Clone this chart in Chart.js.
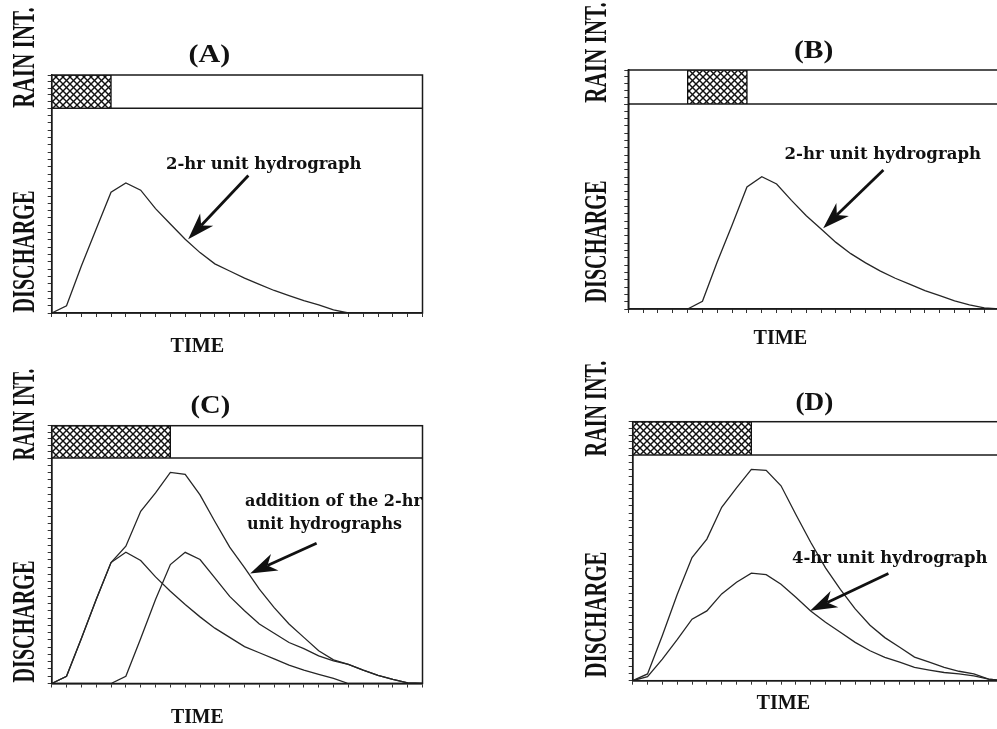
<!DOCTYPE html>
<html>
<head>
<meta charset="utf-8">
<script src="https://cdn.jsdelivr.net/npm/chart.js@4.4.0/dist/chart.umd.min.js"></script>
<style>
html, body { margin: 0; padding: 0; background: #fff; }
#page { position: relative; width: 997px; height: 729px; overflow: hidden; background: #fff; }
#page canvas { position: absolute; }
.lbl { position: absolute; white-space: nowrap; line-height: 1; color: #111; font-weight: bold; }
</style>
</head>
<body>
<div id="page">
  <canvas id="chartA"></canvas>
  <canvas id="chartB"></canvas>
  <canvas id="chartC"></canvas>
  <canvas id="chartD"></canvas>
</div>
<script>
// time in hours, one step = 0.5 hr
const hours = [0, 0.5, 1, 1.5, 2, 2.5, 3, 3.5, 4, 4.5, 5, 5.5, 6, 6.5, 7, 7.5, 8, 8.5, 9, 9.5, 10, 10.5, 11, 11.5, 12, 12.5];

// rain blocks [start, end] in hours
const rainA = [0, 2];
const rainB = [2, 4];
const rainC = [0, 4];
const rainD = [0, 4];

// discharge
const uh2A  = [0, 3.5, 23, 41, 59, 63.5, 60, 51, 43.5, 36, 29.5, 24, 20.5, 17, 14, 11, 8.5, 6, 4, 1.5, 0, 0, 0, 0, 0, 0];
const uh2B  = [0, 0, 0, 0, 0, 3.8, 23, 41, 59.5, 64.5, 61, 53, 45.5, 39, 32.5, 27, 22.5, 18.5, 15, 12, 9, 6.5, 4, 2, 0.5, 0];
const uh2C1 = [0, 3.5, 22, 41, 59, 64, 60, 52, 45, 38.5, 32.5, 27, 22.5, 18, 15, 12, 9, 6.5, 4.5, 2.5, 0, 0, 0, 0, 0, 0];
const uh2C2 = [0, 0, 0, 0, 0, 3.5, 22, 41, 58, 64, 60.5, 51.5, 42.5, 35.5, 29, 24.5, 20, 17, 13.5, 11, 9.3, 6.5, 4, 2, 0.3, 0];
const sumC  = [0, 3.5, 22, 41, 59, 67, 84, 93, 103, 102, 92, 79, 66.5, 56.5, 46, 37, 29, 22.5, 16, 11.5, 9.3, 6.5, 4, 2, 0.3, 0];
const sumD  = [0, 3.3, 22, 42, 60, 69, 84.5, 94, 103, 102.5, 95, 81, 67.5, 55, 44.5, 35, 27, 21, 16.3, 11.5, 9, 6.5, 4.6, 3.3, 0.8, 0];
const uh4D  = [0, 2, 10.5, 20, 30, 34, 42.3, 48, 52.4, 51.7, 47, 40.7, 34, 28.5, 23.6, 18.7, 14.6, 11.4, 9, 6.5, 5.2, 4, 3.3, 2.4, 0.8, 0];

// arrows: [hours, discharge]
const arrowA = { tip: [4.6, 36], tail: [6.63, 67.2] };
const arrowB = { tip: [6.57, 39.4], tail: [8.6, 67.8] };
const arrowC = { tip: [6.69, 53.7], tail: [8.93, 68.4] };
const arrowD = { tip: [5.98, 34.1], tail: [8.62, 52.3] };

const TICK = 4;
const LINE = '#262626';

function hatch() {
  const c = document.createElement('canvas');
  c.width = 7; c.height = 7;
  const g = c.getContext('2d');
  g.fillStyle = '#fff';
  g.fillRect(0, 0, 7, 7);
  g.strokeStyle = '#111';
  g.lineWidth = 1.4;
  [-7, 0, 7].forEach(function (o) {
    g.beginPath(); g.moveTo(o - 1, -1); g.lineTo(o + 8, 8); g.stroke();
    g.beginPath(); g.moveTo(o + 8, -1); g.lineTo(o - 1, 8); g.stroke();
  });
  return g.createPattern(c, 'repeat');
}

function pts(vals) {
  return hours.map(function (h, i) { return { x: h, y: vals[i] }; });
}

function rainPts(r) {
  return [{ x: r[0], y: 0 }, { x: r[0], y: 1 }, { x: r[1], y: 1 }, { x: r[1], y: 0 }];
}

const framePlugin = {
  id: 'frame',
  afterDatasetsDraw: function (chart) {
    const a = chart.chartArea, ctx = chart.ctx;
    ctx.save();
    ctx.strokeStyle = '#1a1a1a';
    ctx.lineWidth = 1.5;
    ctx.strokeRect(a.left, a.top, a.right - a.left, a.bottom - a.top);
    ctx.beginPath();
    ctx.moveTo(a.left, chart.scales.yRain.bottom);
    ctx.lineTo(a.right, chart.scales.yRain.bottom);
    ctx.stroke();
    ctx.restore();
  }
};

const arrowPlugin = {
  id: 'arrow',
  afterDraw: function (chart, args, opts) {
    if (!opts.tip) return;
    const ctx = chart.ctx, sx = chart.scales.x, sy = chart.scales.y;
    const tx = sx.getPixelForValue(opts.tip[0]), ty = sy.getPixelForValue(opts.tip[1]);
    const ox = sx.getPixelForValue(opts.tail[0]), oy = sy.getPixelForValue(opts.tail[1]);
    const len = Math.hypot(tx - ox, ty - oy);
    const dx = (tx - ox) / len, dy = (ty - oy) / len;
    const L = 27, W = 9, N = 19;
    ctx.save();
    ctx.strokeStyle = '#111';
    ctx.fillStyle = '#111';
    ctx.lineWidth = 2.8;
    ctx.beginPath();
    ctx.moveTo(ox, oy);
    ctx.lineTo(tx - dx * N, ty - dy * N);
    ctx.stroke();
    ctx.beginPath();
    ctx.moveTo(tx, ty);
    ctx.lineTo(tx - dx * L - dy * W, ty - dy * L + dx * W);
    ctx.lineTo(tx - dx * N, ty - dy * N);
    ctx.lineTo(tx - dx * L + dy * W, ty - dy * L - dx * W);
    ctx.closePath();
    ctx.fill();
    ctx.restore();
  }
};

function panel(id, quad, plot, rainBottom, ymax, yCount, rain, series, arrow) {
  const cv = document.getElementById(id);
  cv.width = quad.w; cv.height = quad.h;
  cv.style.left = quad.x + 'px';
  cv.style.top = quad.y + 'px';

  const axisGrid = { drawOnChartArea: false, drawTicks: true, tickLength: TICK, color: '#333', lineWidth: 1 };
  const axisBorder = { display: true, color: '#1a1a1a', width: 1.5 };

  const datasets = [{
    data: rainPts(rain),
    yAxisID: 'yRain',
    fill: 'origin',
    backgroundColor: hatch(),
    borderColor: '#111',
    borderWidth: 1.3,
    pointRadius: 0,
    tension: 0
  }];
  series.forEach(function (vals) {
    datasets.push({
      data: pts(vals),
      yAxisID: 'y',
      fill: false,
      borderColor: LINE,
      borderWidth: 1.3,
      pointRadius: 0,
      tension: 0
    });
  });

  return new Chart(cv, {
    type: 'line',
    data: { datasets: datasets },
    plugins: [framePlugin, arrowPlugin],
    options: {
      responsive: false,
      animation: false,
      events: [],
      layout: {
        padding: {
          left: plot.left - quad.x - TICK,
          top: plot.top - quad.y,
          right: quad.x + quad.w - plot.right,
          bottom: quad.y + quad.h - plot.bottom - TICK
        }
      },
      plugins: { legend: { display: false }, tooltip: { enabled: false }, arrow: arrow },
      scales: {
        x: {
          type: 'linear', min: 0, max: 12.5,
          ticks: { stepSize: 0.5, display: false },
          grid: axisGrid, border: axisBorder
        },
        y: {
          type: 'linear', position: 'left', stack: 'p', stackWeight: plot.bottom - rainBottom,
          min: 0, max: ymax,
          ticks: { count: yCount, display: false },
          grid: axisGrid, border: axisBorder
        },
        yRain: {
          type: 'linear', position: 'left', stack: 'p', stackWeight: rainBottom - plot.top,
          min: 0, max: 1,
          ticks: { count: 6, display: false },
          grid: axisGrid, border: axisBorder
        }
      }
    }
  });
}

panel('chartA', { x: 0, y: 0, w: 500, h: 364 }, { left: 51.7, top: 75, right: 422.5, bottom: 313 }, 108.3, 100, 29, rainA, [uh2A], arrowA);
panel('chartB', { x: 500, y: 0, w: 510, h: 364 }, { left: 628.3, top: 70, right: 999.1, bottom: 309 }, 104, 100, 29, rainB, [uh2B], arrowB);
panel('chartC', { x: 0, y: 364, w: 500, h: 365 }, { left: 51.7, top: 425.7, right: 422.5, bottom: 683.5 }, 458, 110, 32, rainC, [uh2C1, uh2C2, sumC], arrowC);
panel('chartD', { x: 500, y: 364, w: 510, h: 365 }, { left: 632.7, top: 421.7, right: 1003.5, bottom: 680.7 }, 455, 110, 32, rainD, [sumD, uh4D], arrowD);

// text: [text, centre x, centre y, length, font size, family, rotation]
const SERIF = '"Liberation Serif", "Times New Roman", serif';
const WIDE = '"DejaVu Serif", serif';
const labels = [
  ['(A)', 209, 53, 42, 25, SERIF, 0],
  ['(B)', 813, 49, 39, 25, SERIF, 0],
  ['(C)', 210, 404, 40, 25, SERIF, 0],
  ['(D)', 814, 401, 38, 25, SERIF, 0],
  ['TIME', 197, 345, 54, 22, SERIF, 0],
  ['TIME', 780, 337, 54, 22, SERIF, 0],
  ['TIME', 197, 716, 53, 22, SERIF, 0],
  ['TIME', 783, 702, 54, 22, SERIF, 0],
  ['RAIN INT.', 24, 57, 101, 31, SERIF, -90],
  ['DISCHARGE', 24, 251, 122, 31, SERIF, -90],
  ['RAIN INT.', 596, 52, 101, 31, SERIF, -90],
  ['DISCHARGE', 596, 241, 122, 31, SERIF, -90],
  ['RAIN INT.', 24, 414, 92, 31, SERIF, -90],
  ['DISCHARGE', 24, 621, 122, 31, SERIF, -90],
  ['RAIN INT.', 596, 408, 96, 31, SERIF, -90],
  ['DISCHARGE', 596, 614, 126, 31, SERIF, -90],
  ['2-hr unit hydrograph', 264, 163, 196, 17, WIDE, 0],
  ['2-hr unit hydrograph', 883, 153, 197, 17, WIDE, 0],
  ['addition of the 2-hr', 333, 500, 177, 17, WIDE, 0],
  ['unit hydrographs', 324, 523, 155, 17, WIDE, 0],
  ['4-hr unit hydrograph', 890, 557, 196, 17, WIDE, 0]
];

const page = document.getElementById('page');
labels.forEach(function (l) {
  const d = document.createElement('div');
  d.className = 'lbl';
  d.textContent = l[0];
  d.style.fontFamily = l[5];
  d.style.fontSize = l[4] + 'px';
  page.appendChild(d);
  const k = l[3] / d.offsetWidth;
  d.style.left = (l[1] - d.offsetWidth / 2) + 'px';
  d.style.top = (l[2] - d.offsetHeight / 2) + 'px';
  d.style.transform = 'rotate(' + l[6] + 'deg) scaleX(' + k.toFixed(3) + ')';
});
</script>
</body>
</html>
